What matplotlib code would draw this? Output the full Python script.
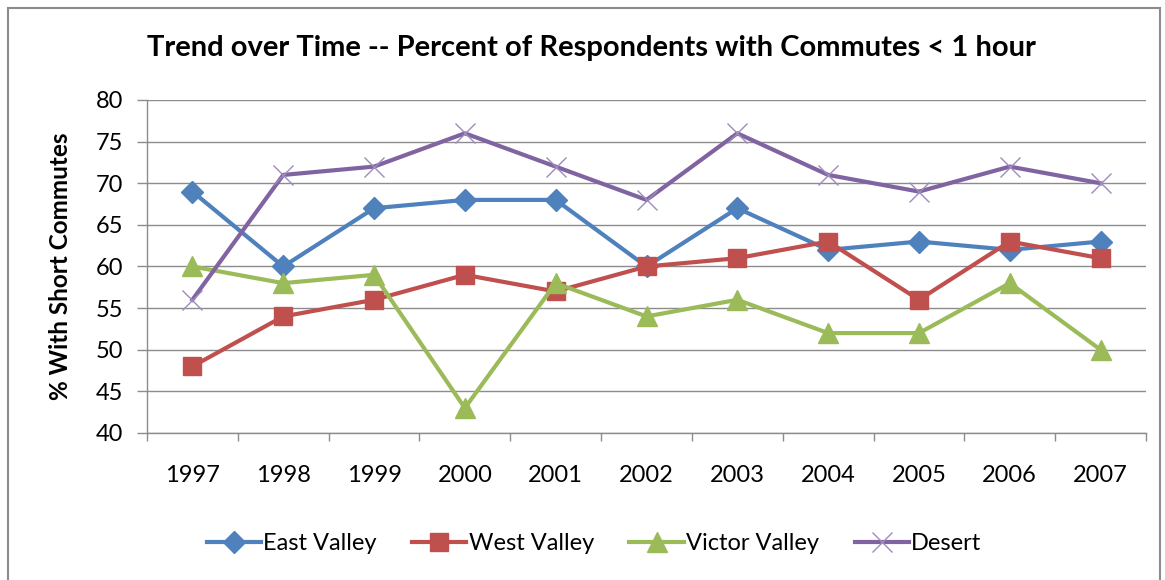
import matplotlib
matplotlib.use("Agg")
import matplotlib.pyplot as plt
from matplotlib.patches import Rectangle
import numpy as np

years = ["1997", "1998", "1999", "2000", "2001", "2002", "2003", "2004", "2005", "2006", "2007"]
east_valley = [69, 60, 67, 68, 68, 60, 67, 62, 63, 62, 63]
west_valley = [48, 54, 56, 59, 57, 60, 61, 63, 56, 63, 61]
victor_valley = [60, 58, 59, 43, 58, 54, 56, 52, 52, 58, 50]
desert = [56, 71, 72, 76, 72, 68, 76, 71, 69, 72, 70]
y_ticks = [40, 45, 50, 55, 60, 65, 70, 75, 80]

plt.rcParams['font.family'] = ['Lato', 'DejaVu Sans']

fig = plt.figure(figsize=(11.65, 5.8), dpi=100)
fig.patches.append(Rectangle((8/1165, -0.01), (1160-8)/1165, (572)/580 + 0.01,
                             transform=fig.transFigure, fill=False,
                             edgecolor='#8c8c8c', linewidth=1.5))
ax = fig.add_axes([147/1165, 1-433/580, (1146-147)/1165, (433-100)/580])

x = np.arange(len(years))
series = [
    ("East Valley", east_valley, '#4F81BD', 'D', 11),
    ("West Valley", west_valley, '#C0504D', 's', 13),
    ("Victor Valley", victor_valley, '#9BBB59', '^', 14),
    ("Desert", desert, '#8064A2', 'x', 14),
]
for name, vals, col, mk, ms in series:
    if mk == 'x':
        ax.plot(x, vals, color=col, linewidth=3, marker='x', markersize=ms,
                markeredgewidth=1.0, markeredgecolor='#9d8bc0', label=name)
    else:
        ax.plot(x, vals, color=col, linewidth=3, marker=mk, markersize=ms,
                markeredgecolor=col, markerfacecolor=col, label=name)

ax.set_xlim(-0.5, len(years) - 0.5)
ax.set_ylim(40, 80)
ax.set_yticks(y_ticks)
ax.yaxis.grid(True, color='#8c8c8c', linewidth=1)
ax.set_axisbelow(True)
ax.set_xticks(x)
ax.set_xticklabels(years, fontsize=17)
ax.set_xticks(np.arange(-0.5, len(years), 1.0), minor=True)
ax.tick_params(axis='x', which='major', length=0, pad=23)
ax.tick_params(axis='x', which='minor', length=6, color='#8c8c8c', width=1)
ax.tick_params(axis='y', length=7, color='#8c8c8c', width=1, labelsize=17, pad=10)
for s in ['top', 'right']:
    ax.spines[s].set_visible(False)
for s in ['left', 'bottom']:
    ax.spines[s].set_color('#8c8c8c')
    ax.spines[s].set_linewidth(1)

ax.set_ylabel("% With Short Commutes", fontsize=17.5, fontweight='bold')
ax.yaxis.set_label_coords((72 - 147) / 999, 0.5)
fig.text(591/1165, 1-48/580, "Trend over Time -- Percent of Respondents with Commutes < 1 hour",
         ha='center', va='center', fontsize=21, fontweight='bold')

ax.legend(loc='center', bbox_to_anchor=(594/1165, 1-544/580), bbox_transform=fig.transFigure,
          ncol=4, frameon=False, fontsize=17, handlelength=2.3, columnspacing=1.5,
          handletextpad=0.1)

fig.savefig("out.png", dpi=100)
